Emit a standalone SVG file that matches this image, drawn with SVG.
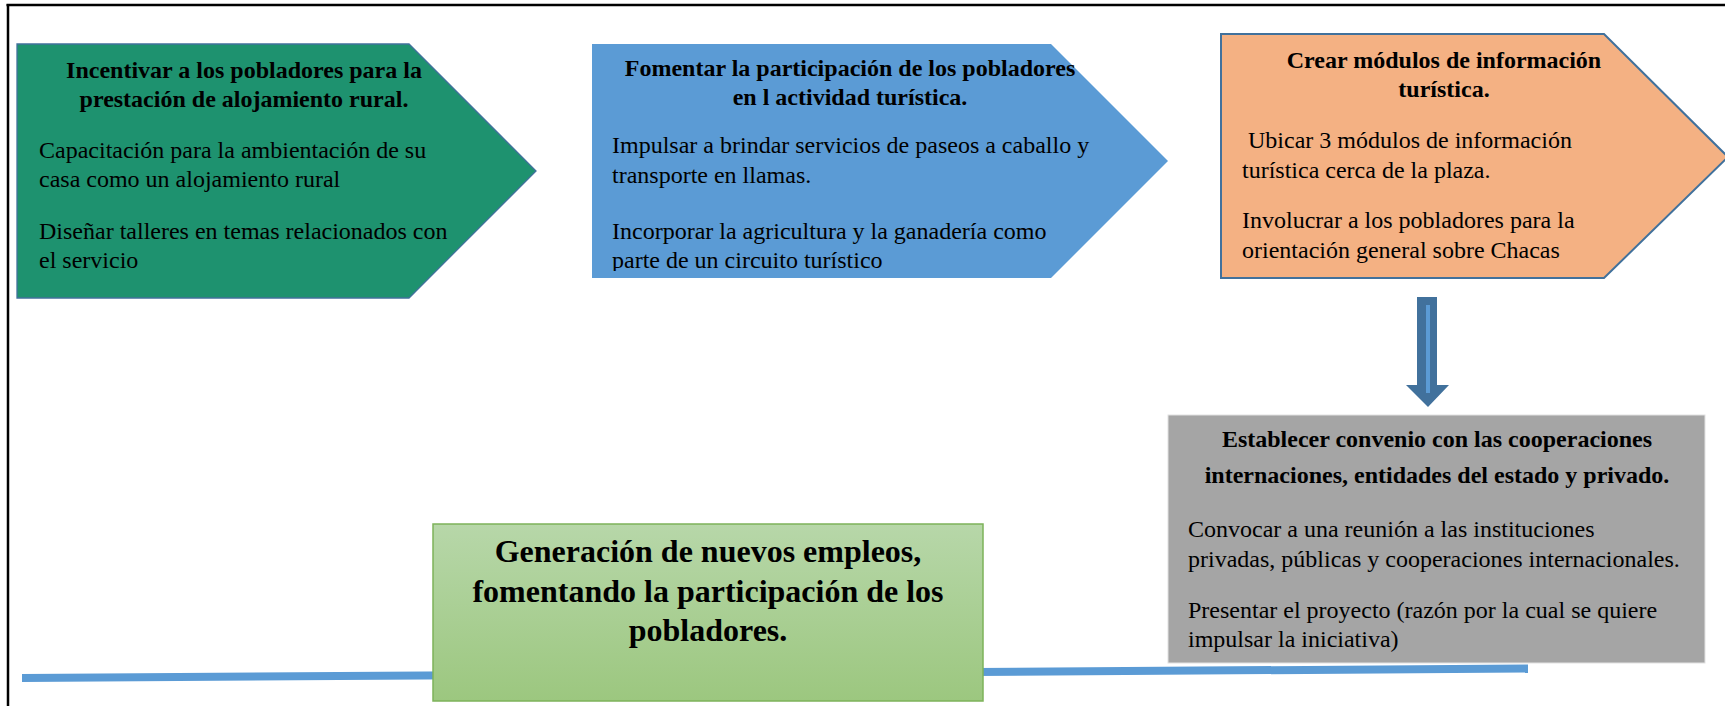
<svg xmlns="http://www.w3.org/2000/svg" width="1725" height="706" viewBox="0 0 1725 706">
<style>
  text { font-family: "Liberation Serif", "Times New Roman", serif; font-size: 24px; fill: #000; }
  .t { font-weight: bold; text-anchor: middle; }
  .big { font-weight: bold; font-size: 32px; text-anchor: middle; }
  .frame { stroke: #000; stroke-width: 2.5; fill: none; }
</style>
<defs>
  <linearGradient id="gGreen" x1="0" y1="0" x2="0" y2="1">
    <stop offset="0" stop-color="#b7d7a9"/>
    <stop offset="1" stop-color="#9cc77f"/>
  </linearGradient>
  <clipPath id="clipBlue">
    <rect x="592" y="44" width="580" height="227"/>
  </clipPath>
</defs>

<g id="frame">
  <line class="frame" x1="6.5" y1="5" x2="1725" y2="5"/>
  <line class="frame" x1="8" y1="4" x2="8" y2="706"/>
</g>

<g id="connectors">
  <line x1="22" y1="678" x2="1528" y2="668.5" stroke="#5b9bd5" stroke-width="8"/>
  <polygon points="1417,297 1437,297 1437,385 1449,385 1428,407 1406,385 1417,385" fill="#41719c"/>
  <line x1="1428" y1="305" x2="1428" y2="393" stroke="#5b9bd5" stroke-width="4"/>
</g>

<g id="node-alojamiento">
  <polygon points="17,44 409,44 536,171 409,298 17,298" fill="#1e926f" stroke="#41719c" stroke-width="1.3"/>
  <text class="t" x="244" y="78">Incentivar a los pobladores para la</text>
  <text class="t" x="244" y="107">prestación de alojamiento rural.</text>
  <text x="39" y="158">Capacitación para la ambientación de su</text>
  <text x="39" y="187">casa como un alojamiento rural</text>
  <text x="39" y="239">Diseñar talleres en temas relacionados con</text>
  <text x="39" y="268">el servicio</text>
</g>

<g id="node-participacion">
  <polygon points="592,44 1051,44 1168,161 1051,278 592,278" fill="#5b9bd5"/>
  <text class="t" x="850" y="76">Fomentar la participación de los pobladores</text>
  <text class="t" x="850" y="105">en l actividad turística.</text>
  <g clip-path="url(#clipBlue)">
    <text x="612" y="153">Impulsar a brindar servicios de paseos a caballo y</text>
    <text x="612" y="183">transporte en llamas.</text>
    <text x="612" y="239">Incorporar la agricultura y la ganadería como</text>
    <text x="612" y="268">parte de un circuito turístico</text>
  </g>
</g>

<g id="node-modulos">
  <polygon points="1221,34 1604,34 1728,157 1604,278 1221,278" fill="#f4b183" stroke="#41719c" stroke-width="2"/>
  <text class="t" x="1444" y="68">Crear módulos de información</text>
  <text class="t" x="1444" y="97">turística.</text>
  <text x="1248" y="148">Ubicar 3 módulos de información</text>
  <text x="1242" y="178">turística cerca de la plaza.</text>
  <text x="1242" y="228">Involucrar a los pobladores para la</text>
  <text x="1242" y="258">orientación general sobre Chacas</text>
</g>

<g id="node-convenio">
  <rect x="1168" y="415" width="537" height="248" fill="#a5a5a5" stroke="#e2e2e2" stroke-width="1"/>
  <text class="t" x="1437" y="447">Establecer convenio con las cooperaciones</text>
  <text class="t" x="1437" y="483">internaciones, entidades del estado y privado.</text>
  <text x="1188" y="537">Convocar a una reunión a las instituciones</text>
  <text x="1188" y="567">privadas, públicas y cooperaciones internacionales.</text>
  <text x="1188" y="618">Presentar el proyecto (razón por la cual se quiere</text>
  <text x="1188" y="647">impulsar la iniciativa)</text>
</g>

<g id="node-empleos">
  <rect x="433" y="524" width="550" height="177" fill="url(#gGreen)" stroke="#7db35a" stroke-width="1.5"/>
  <text class="big" x="708" y="562">Generación de nuevos empleos,</text>
  <text class="big" x="708" y="602">fomentando la participación de los</text>
  <text class="big" x="708" y="641">pobladores.</text>
</g>
</svg>
